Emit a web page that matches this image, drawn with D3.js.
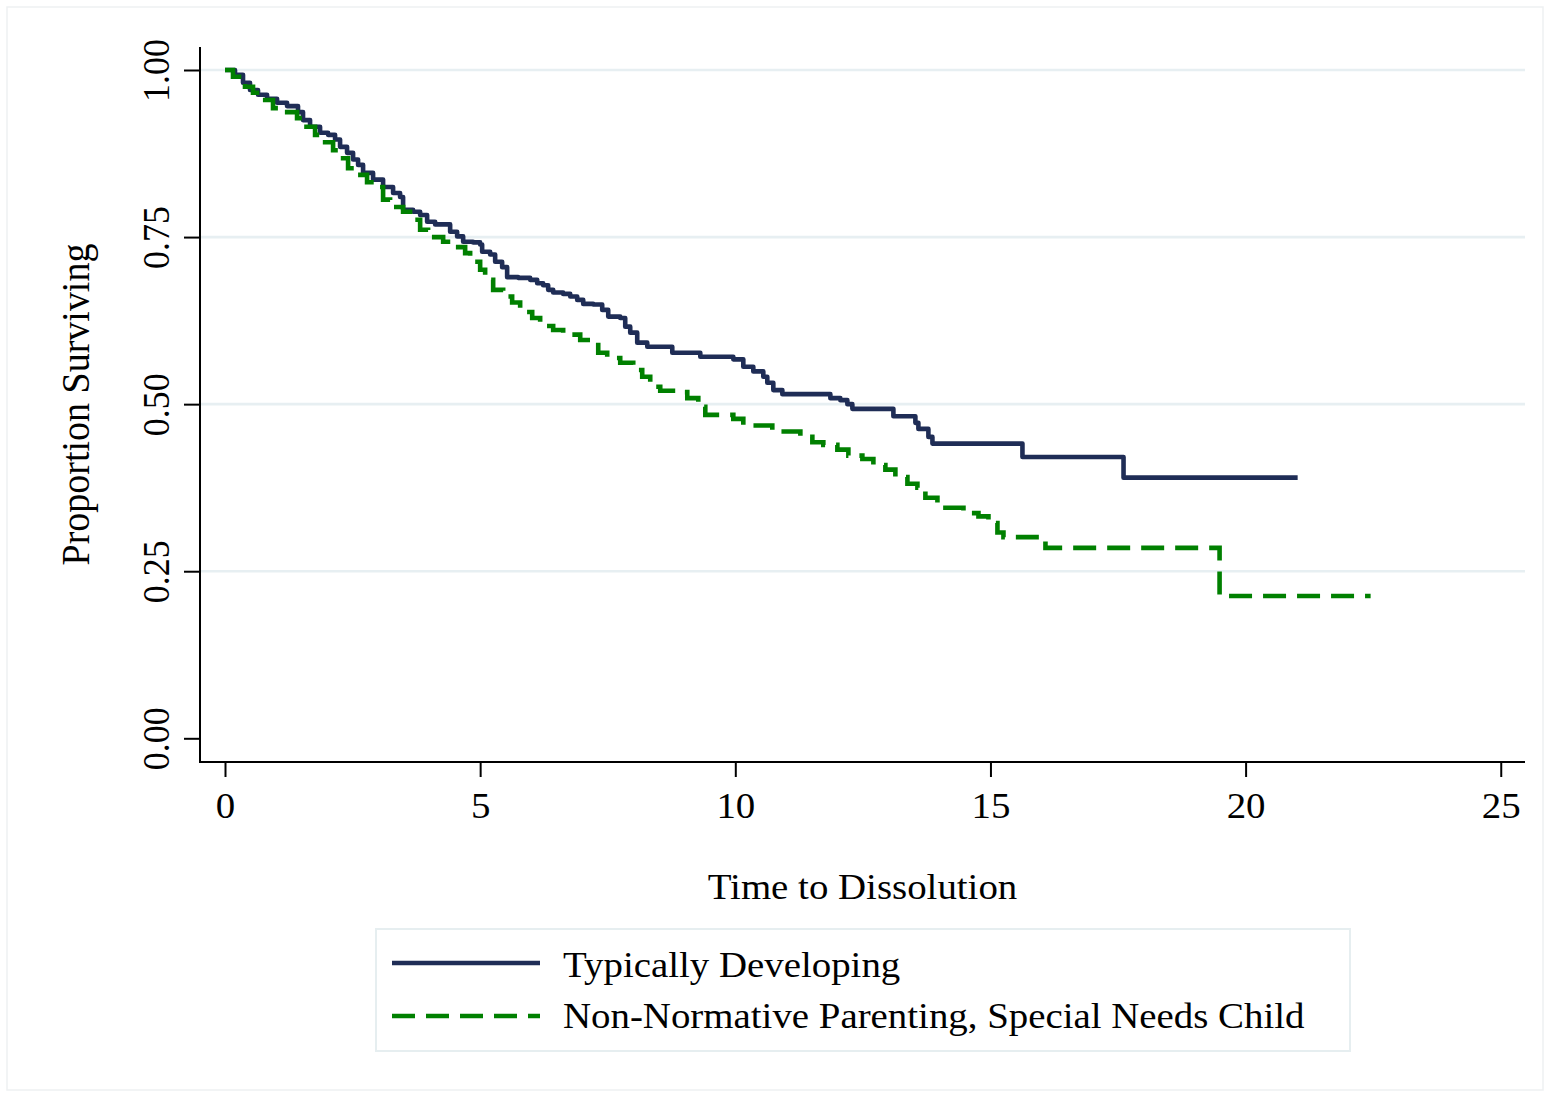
<!DOCTYPE html>
<html>
<head>
<meta charset="utf-8">
<script src="https://cdn.jsdelivr.net/npm/d3@7"></script>
<style>
  html, body { margin: 0; padding: 0; background: #ffffff; }
  svg { display: block; }
  text { font-family: "Liberation Serif", "Times New Roman", serif; fill: #000; }
</style>
</head>
<body>
<svg id="chart" width="1550" height="1097"></svg>
<script>
// Kaplan-Meier survival estimates: time of each drop and the proportion surviving after it
const typicalTimes = [0, 0.196, 0.353, 0.490, 0.647, 0.824, 1.020, 1.216, 1.431, 1.529, 1.667, 1.863, 2.020, 2.157, 2.255,
  2.392, 2.510, 2.608, 2.706, 2.902, 3.098, 3.294, 3.431, 3.490, 3.686, 3.824, 3.961, 4.118, 4.412, 4.549,
  4.667, 4.863, 5.000, 5.039, 5.196, 5.294, 5.431, 5.529, 5.745, 5.980, 6.118, 6.235, 6.333, 6.431, 6.627,
  6.765, 6.902, 7.020, 7.216, 7.392, 7.510, 7.745, 7.843, 7.941, 8.078, 8.275, 8.765, 9.314, 9.961, 10.157,
  10.353, 10.549, 10.627, 10.745, 10.922, 11.863, 12.059, 12.196, 12.294, 13.098, 13.529, 13.588, 13.784,
  13.863, 15.627, 17.608, 21.02];
const typicalSurv = [1.000, 0.993, 0.981, 0.970, 0.963, 0.957, 0.951, 0.946, 0.937, 0.925, 0.915, 0.906, 0.903, 0.896, 0.885,
  0.876, 0.866, 0.858, 0.846, 0.836, 0.825, 0.816, 0.810, 0.791, 0.788, 0.783, 0.773, 0.769, 0.758, 0.751,
  0.743, 0.742, 0.739, 0.728, 0.724, 0.713, 0.705, 0.690, 0.689, 0.686, 0.681, 0.678, 0.671, 0.667, 0.665,
  0.661, 0.656, 0.650, 0.649, 0.641, 0.631, 0.629, 0.616, 0.607, 0.592, 0.586, 0.577, 0.571, 0.567, 0.556,
  0.549, 0.541, 0.532, 0.521, 0.515, 0.509, 0.506, 0.500, 0.493, 0.482, 0.472, 0.463, 0.451,
  0.441, 0.421, 0.390, 0.390];

const specialTimes = [0, 0.157, 0.392, 0.549, 0.725, 0.941, 1.137, 1.412, 1.529, 1.765, 1.902, 2.118, 2.216, 2.412, 2.549,
  2.784, 2.980, 3.098, 3.235, 3.490, 3.627, 3.824, 3.980, 4.275, 4.471, 4.706, 4.804, 5.000, 5.098, 5.255,
  5.451, 5.627, 5.784, 6.020, 6.176, 6.431, 6.627, 6.961, 7.157, 7.314, 7.490, 7.745, 8.000, 8.176, 8.333,
  8.529, 8.863, 9.059, 9.275, 9.412, 9.961, 10.157, 10.725, 11.275, 11.510, 11.725, 12.000, 12.216, 12.490,
  12.706, 12.941, 13.137, 13.373, 13.569, 13.725, 13.961, 14.118, 14.471, 14.765, 14.961, 15.137, 15.255,
  16.078, 19.490, 22.45];
const specialSurv = [1.000, 0.990, 0.975, 0.966, 0.955, 0.943, 0.937, 0.928, 0.915, 0.903, 0.892, 0.880, 0.868, 0.853, 0.843,
  0.832, 0.825, 0.806, 0.795, 0.788, 0.776, 0.761, 0.750, 0.743, 0.735, 0.726, 0.713, 0.701, 0.686, 0.671,
  0.661, 0.652, 0.638, 0.629, 0.617, 0.611, 0.604, 0.596, 0.593, 0.577, 0.569, 0.562, 0.551, 0.541, 0.526,
  0.520, 0.518, 0.509, 0.496, 0.484, 0.478, 0.468, 0.459, 0.451, 0.443, 0.439, 0.432, 0.423, 0.418,
  0.409, 0.402, 0.391, 0.381, 0.375, 0.360, 0.352, 0.345, 0.337, 0.332, 0.322, 0.308, 0.301,
  0.285, 0.213, 0.213];

const seriesNames = ["Typically Developing", "Non-Normative Parenting, Special Needs Child"];
const xTicks = [0, 5, 10, 15, 20, 25];
const yTicks = [0, 0.25, 0.5, 0.75, 1];
const gridTicks = [0.25, 0.5, 0.75, 1];

const navy = "#1f2d56";
const green = "#008000";
const gridColor = "#e7eff2";
const fontSize = 36;
const stretch = 1.08;
const curveWidth = 4.6;

const svg = d3.select("#chart");

// plot frame
const frame = { left: 200, right: 1525, top: 47, bottom: 762 };
const x = d3.scaleLinear().domain([0, 25]).range([225, 1500.75]);
const y = d3.scaleLinear().domain([0, 1]).range([738.3, 70]);

// outer graph border
svg.append("rect")
  .attr("x", 7).attr("y", 7).attr("width", 1536).attr("height", 1083)
  .attr("fill", "#fff").attr("stroke", "#eef1f2").attr("stroke-width", 1.5);

// horizontal grid lines
svg.append("g").selectAll("line").data(gridTicks).join("line")
  .attr("x1", frame.left).attr("x2", frame.right)
  .attr("y1", d => y(d)).attr("y2", d => y(d))
  .attr("stroke", gridColor).attr("stroke-width", 2.6);

// survival curves
const stepLine = d3.line()
  .x(d => x(d[0]))
  .y(d => y(d[1]))
  .curve(d3.curveStepAfter);

const typicalData = typicalTimes.map((t, i) => [t, typicalSurv[i]]);
const specialData = specialTimes.map((t, i) => [t, specialSurv[i]]);

svg.append("path")
  .datum(typicalData)
  .attr("d", stepLine)
  .attr("fill", "none")
  .attr("stroke", navy)
  .attr("stroke-width", curveWidth)
  .attr("stroke-linejoin", "round");

svg.append("path")
  .datum(specialData)
  .attr("d", stepLine)
  .attr("fill", "none")
  .attr("stroke", green)
  .attr("stroke-width", curveWidth)
  .attr("stroke-dasharray", "23,11");

// y axis
const yAxis = d3.axisLeft(y).tickValues(yTicks).tickSize(16).tickFormat(d3.format(".2f")).tickPadding(0);
const gy = svg.append("g").attr("transform", `translate(${frame.left},0)`).call(yAxis);
gy.select(".domain").remove();
gy.selectAll(".tick line").attr("stroke", "#000").attr("stroke-width", 2);
gy.selectAll(".tick text").remove();
gy.selectAll(".tick").append("text")
  .attr("transform", `scale(${stretch},1) translate(${-31 / stretch},0) rotate(-90)`)
  .attr("text-anchor", "middle")
  .attr("x", 0).attr("y", 0)
  .style("font-size", fontSize + "px")
  .style("font-family", '"Liberation Serif", "Times New Roman", serif')
  .attr("fill", "#000")
  .text(d => d3.format(".2f")(d));
svg.append("line")
  .attr("x1", frame.left).attr("x2", frame.left)
  .attr("y1", frame.top).attr("y2", frame.bottom + 1)
  .attr("stroke", "#000").attr("stroke-width", 2);

// x axis
const xAxis = d3.axisBottom(x).tickValues(xTicks).tickSize(15).tickFormat(d3.format("d")).tickPadding(0);
const gx = svg.append("g").attr("transform", `translate(0,${frame.bottom})`).call(xAxis);
gx.select(".domain").remove();
gx.selectAll(".tick line").attr("stroke", "#000").attr("stroke-width", 2);
gx.selectAll(".tick text").remove();
gx.selectAll(".tick").append("text")
  .attr("transform", `translate(0,56) scale(${stretch},1)`)
  .attr("text-anchor", "middle")
  .style("font-size", fontSize + "px")
  .style("font-family", '"Liberation Serif", "Times New Roman", serif')
  .attr("fill", "#000")
  .text(d => d);
svg.append("line")
  .attr("x1", frame.left - 1).attr("x2", frame.right)
  .attr("y1", frame.bottom).attr("y2", frame.bottom)
  .attr("stroke", "#000").attr("stroke-width", 2);

// axis titles
svg.append("text")
  .attr("transform", `translate(${(frame.left + frame.right) / 2},899) scale(${stretch},1)`)
  .attr("text-anchor", "middle")
  .style("font-size", fontSize + "px")
  .text("Time to Dissolution");

svg.append("text")
  .attr("transform", `translate(89,${(frame.top + frame.bottom) / 2}) scale(${stretch},1) rotate(-90)`)
  .attr("text-anchor", "middle")
  .style("font-size", "38px")
  .text("Proportion Surviving");

// legend
const legend = svg.append("g");
legend.append("rect")
  .attr("x", 376).attr("y", 929).attr("width", 974).attr("height", 122)
  .attr("fill", "#fff").attr("stroke", "#e6eef0").attr("stroke-width", 2);

const legendItems = [
  { name: seriesNames[0], color: navy, dash: null, cy: 963, base: 977 },
  { name: seriesNames[1], color: green, dash: "23,11", cy: 1016, base: 1028 }
];
legendItems.forEach(item => {
  legend.append("line")
    .attr("x1", 392).attr("x2", 540)
    .attr("y1", item.cy).attr("y2", item.cy)
    .attr("stroke", item.color).attr("stroke-width", curveWidth)
    .attr("stroke-dasharray", item.dash);
  legend.append("text")
    .attr("transform", `translate(563,${item.base}) scale(${stretch},1)`)
    .style("font-size", fontSize + "px")
    .text(item.name);
});
</script>
</body>
</html>
